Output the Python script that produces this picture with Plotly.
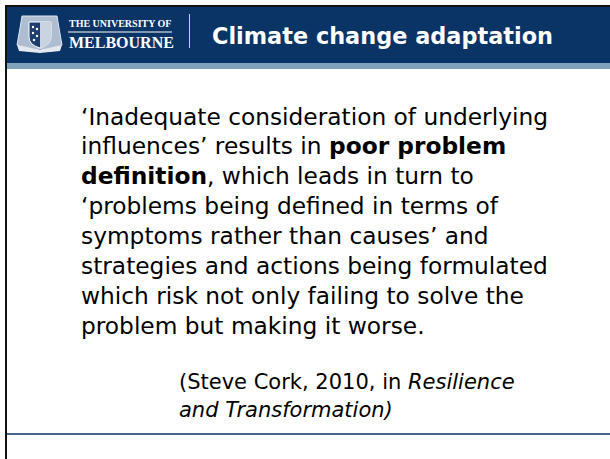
import plotly.graph_objects as go

# ---- content ----
header_title = "Climate change adaptation"
logo_line1 = "THE UNIVERSITY OF"
logo_line2 = "MELBOURNE"
body_lines = [
    "\u2018Inadequate consideration of underlying",
    "influences\u2019 results in <b>poor problem</b>",
    "<b>definition</b>, which leads in turn to",
    "\u2018problems being defined in terms of",
    "symptoms rather than causes\u2019 and",
    "strategies and actions being formulated",
    "which risk not only failing to solve the",
    "problem but making it worse.",
]
citation_lines = [
    "(Steve Cork, 2010, in <i>Resilience</i>",
    "<i>and Transformation)</i>",
]

# ---- style ----
W, H = 610, 459
NAVY = "#0a3366"
STRIP = "#7fa3ba"
BODY_FONT = "DejaVu Sans"

fig = go.Figure()
shapes = []
# header band
shapes.append(dict(type="rect", x0=6, x1=W, y0=6, y1=63, fillcolor=NAVY, line_width=0, layer="below"))
shapes.append(dict(type="rect", x0=6, x1=W, y0=63, y1=69, fillcolor=STRIP, line_width=0, layer="below"))
# frame lines (top and left)
shapes.append(dict(type="line", x0=5, x1=W, y0=6, y1=6, line=dict(color="#111111", width=2)))
shapes.append(dict(type="line", x0=6, x1=6, y0=5, y1=H, line=dict(color="#111111", width=2)))
# footer rule
shapes.append(dict(type="line", x0=7, x1=W, y0=434, y1=434, line=dict(color=NAVY, width=1.5)))
# divider in header
shapes.append(dict(type="line", x0=189.5, x1=189.5, y0=14, y1=48, line=dict(color="#c9d3df", width=1)))
# logo underline
shapes.append(dict(type="line", x0=68, x1=172, y0=32, y1=32, line=dict(color="white", width=1)))

# crest (simplified)
shapes.append(dict(type="path",
                   path="M 22 16 L 57 16 L 59 28 L 62 45 L 52 51 L 40 49 L 28 51 L 17 45 L 20 28 Z",
                   fillcolor="#aebdd1", line=dict(color="#dfe6ef", width=1)))
shapes.append(dict(type="path",
                   path="M 29 22 L 51 22 L 51 37 Q 51 45 40 48 Q 29 45 29 37 Z",
                   fillcolor="#1d3d72", line=dict(color="white", width=1)))
shapes.append(dict(type="path",
                   path="M 40 22 L 51 22 L 51 37 Q 51 45 40 48 Z",
                   fillcolor="#c9d3e2", line_width=0))
for cx, cy in [(33, 27), (37, 29), (33, 33), (37, 36), (34, 40)]:
    shapes.append(dict(type="circle", x0=cx - 1.2, x1=cx + 1.2, y0=cy - 1.2, y1=cy + 1.2,
                       fillcolor="white", line_width=0))
shapes.append(dict(type="path",
                   path="M 17 45 L 27 47 L 40 50 L 53 47 L 62 45 L 60 51 L 40 53 L 19 51 Z",
                   fillcolor="#e3e8ef", line_width=0))

annotations = []
# logo wordmark
annotations.append(dict(x=67, y=23, text="<b>" + logo_line1 + "</b>", showarrow=False,
                        xanchor="left", yanchor="middle",
                        font=dict(family="Liberation Serif", size=10, color="white")))
annotations.append(dict(x=67, y=42.5, text="<b>" + logo_line2 + "</b>", showarrow=False,
                        xanchor="left", yanchor="middle",
                        font=dict(family="Liberation Serif", size=16, color="white")))
# title
annotations.append(dict(x=210, y=36, text="<b>" + header_title + "</b>", showarrow=False,
                        xanchor="left", yanchor="middle",
                        font=dict(family=BODY_FONT, size=22.4, color="white")))
# body
for i, line in enumerate(body_lines):
    annotations.append(dict(x=79, y=116 + i * 29.9, text=line, showarrow=False,
                            xanchor="left", yanchor="middle",
                            font=dict(family=BODY_FONT, size=23.3, color="black")))
# citation
for i, line in enumerate(citation_lines):
    annotations.append(dict(x=177, y=382 + i * 27.5, text=line, showarrow=False,
                            xanchor="left", yanchor="middle",
                            font=dict(family=BODY_FONT, size=21, color="black")))

fig.update_layout(
    width=W, height=H, autosize=False,
    margin=dict(l=0, r=0, t=0, b=0, pad=0),
    paper_bgcolor="white", plot_bgcolor="white",
    xaxis=dict(range=[0, W], visible=False, fixedrange=True),
    yaxis=dict(range=[H, 0], visible=False, fixedrange=True),
    shapes=shapes, annotations=annotations, showlegend=False,
)
fig.write_html("out.html", config={"displayModeBar": False, "staticPlot": True},
               post_script="document.body.style.margin='0';document.body.style.overflow='hidden';")
